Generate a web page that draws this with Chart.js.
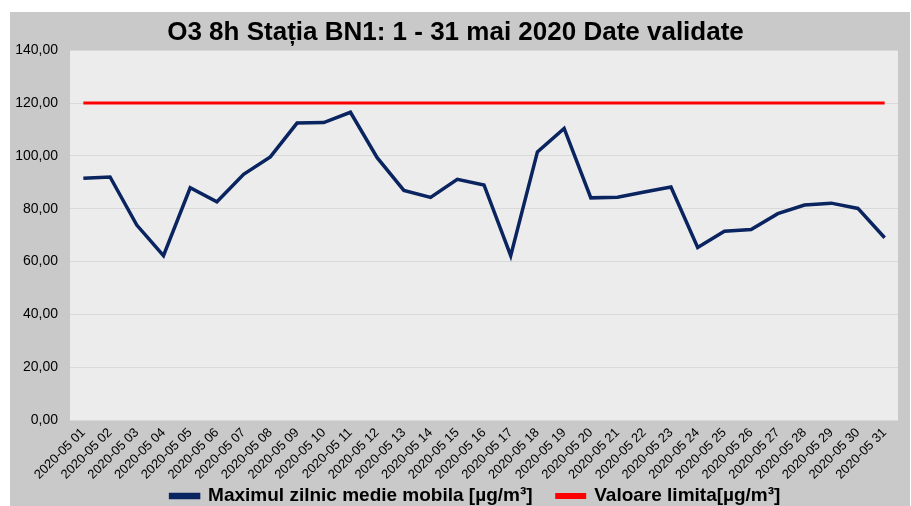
<!DOCTYPE html>
<html>
<head>
<meta charset="utf-8">
<script src="https://cdn.jsdelivr.net/npm/chart.js@4.4.1/dist/chart.umd.min.js"></script>
<style>
  html, body { margin: 0; padding: 0; background: #ffffff; }
  #wrap { position: absolute; left: 10px; top: 12px; width: 900px; height: 494px; background: #c9c9c9; }
  canvas { display: block; }
</style>
</head>
<body>
<div id="wrap"><canvas id="c" width="900" height="494"></canvas></div>
<script>
const categories = [
  "2020-05 01","2020-05 02","2020-05 03","2020-05 04","2020-05 05","2020-05 06","2020-05 07",
  "2020-05 08","2020-05 09","2020-05 10","2020-05 11","2020-05 12","2020-05 13","2020-05 14",
  "2020-05 15","2020-05 16","2020-05 17","2020-05 18","2020-05 19","2020-05 20","2020-05 21",
  "2020-05 22","2020-05 23","2020-05 24","2020-05 25","2020-05 26","2020-05 27","2020-05 28",
  "2020-05 29","2020-05 30","2020-05 31"
];
const o3Values = [
  91.5, 92.0, 73.8, 62.2, 87.9, 82.6, 93.0, 99.6, 112.4, 112.6, 116.5,
  99.3, 86.9, 84.3, 91.1, 89.0, 62.2, 101.5, 110.4, 84.1, 84.3,
  86.3, 88.2, 65.3, 71.5, 72.1, 78.1, 81.4, 82.1, 80.1, 69.0
];
const limitValues = [
  120,120,120,120,120,120,120,120,120,120,120,120,120,120,120,120,
  120,120,120,120,120,120,120,120,120,120,120,120,120,120,120
];
const yTicks = [0, 20, 40, 60, 80, 100, 120, 140];

const plotBg = {
  id: 'plotBg',
  beforeDraw(chart) {
    const {ctx, chartArea: a} = chart;
    ctx.save();
    ctx.fillStyle = '#ececec';
    ctx.fillRect(a.left, a.top, a.right - a.left, a.bottom - a.top);
    ctx.restore();
  }
};

const legendShift = {
  id: 'legendShift',
  afterLayout(chart) {
    if (chart.legend) {
      chart.legend.left += 20;
      chart.legend.right += 20;
    }
  }
};

new Chart(document.getElementById('c'), {
  type: 'line',
  data: {
    labels: categories,
    datasets: [
      {
        label: 'Maximul zilnic medie mobila [µg/m³]',
        data: o3Values,
        borderColor: '#0a2460',
        backgroundColor: '#0a2460',
        borderWidth: 3.5,
        pointRadius: 0,
        tension: 0
      },
      {
        label: 'Valoare limita[µg/m³]',
        data: limitValues,
        borderColor: '#ff0000',
        backgroundColor: '#ff0000',
        borderWidth: 3,
        pointRadius: 0,
        tension: 0
      }
    ]
  },
  options: {
    responsive: false,
    animation: false,
    layout: { padding: { left: 3, right: 12, top: 0, bottom: -9.5 } },
    plugins: {
      title: {
        display: true,
        text: 'O3 8h Stația BN1: 1 - 31 mai 2020 Date validate',
        color: '#000000',
        font: { family: 'Liberation Sans, Arial, sans-serif', size: 26, weight: 'bold' },
        padding: { top: 5, bottom: 2 }
      },
      legend: {
        position: 'bottom',
        labels: {
          color: '#000000',
          font: { family: 'Liberation Sans, Arial, sans-serif', size: 19, weight: 'bold' },
          boxWidth: 28,
          boxHeight: 3,
          padding: 3,
          generateLabels(chart) {
            const items = Chart.defaults.plugins.legend.labels.generateLabels(chart);
            if (items.length) items[0].text = items[0].text + '\u00a0\u00a0\u00a0\u00a0';
            return items;
          }
        }
      },
      tooltip: { enabled: false }
    },
    scales: {
      x: {
        offset: true,
        afterFit(scale) { scale.height = 63.5; },
        grid: { display: false, drawTicks: false },
        border: { display: false },
        ticks: {
          color: '#000000',
          font: { family: 'Liberation Sans, Arial, sans-serif', size: 13 },
          maxRotation: 45,
          minRotation: 45,
          autoSkip: false,
          padding: 5
        }
      },
      y: {
        min: 0,
        max: 140,
        afterBuildTicks(scale) { scale.ticks = yTicks.map(v => ({ value: v })); },
        afterFit(scale) { scale.width = 57; },
        grid: { color: '#d9d9d9', lineWidth: 1, drawTicks: false },
        border: { display: false },
        ticks: {
          color: '#000000',
          font: { family: 'Liberation Sans, Arial, sans-serif', size: 14 },
          padding: 12,
          callback: v => v.toFixed(2).replace('.', ',')
        }
      }
    }
  },
  plugins: [plotBg, legendShift]
});
</script>
</body>
</html>
